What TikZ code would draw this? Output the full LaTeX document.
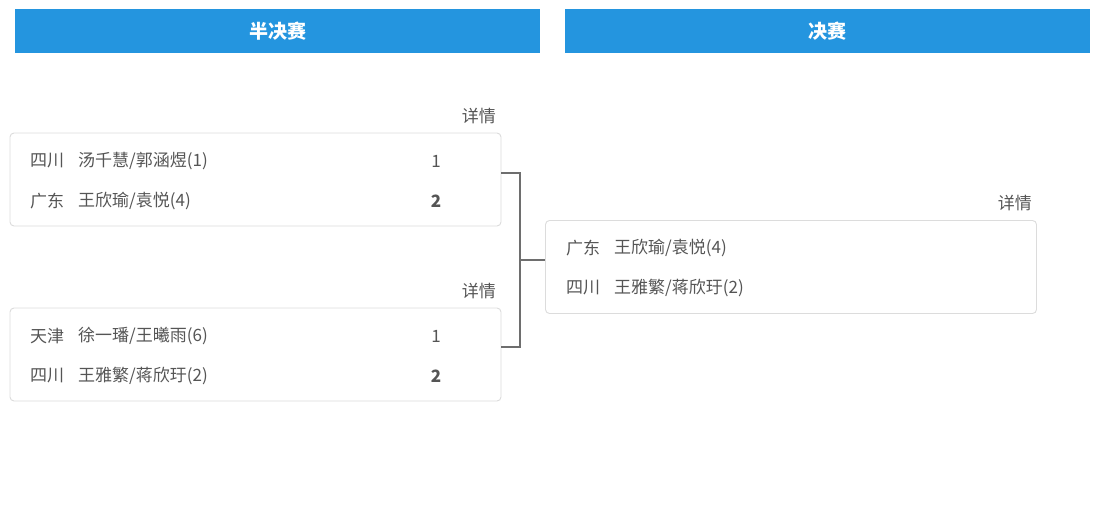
\documentclass[tikz,border=0pt]{standalone}
\usepackage{fontspec}
\setmainfont{Noto Sans CJK SC}
\newfontfamily\cjk{Noto Sans CJK SC}
\definecolor{hdrblue}{HTML}{2495DF}
\definecolor{boxline}{HTML}{DCDCDC}
\definecolor{txt}{HTML}{555555}
\definecolor{brk}{HTML}{6E6E6E}
\begin{document}
\begin{tikzpicture}[x=1pt,y=-1pt,
  hdr/.style={fill=hdrblue,draw=none,minimum width=525pt,minimum height=44pt,inner sep=0pt,
    text=white,font=\cjk\fontsize{19}{19}\selectfont\bfseries},
  matchbox/.style={draw=boxline,line width=0.9pt,rounded corners=4pt,fill=white,
    minimum width=491pt,minimum height=93pt,inner sep=0pt},
  lbl/.style={anchor=west,inner sep=0pt,text=txt,font=\cjk\fontsize{17}{17}\selectfont},
  score/.style={anchor=center,inner sep=0pt,text=txt,font=\cjk\fontsize{17}{17}\selectfont},
  win/.style={score,font=\cjk\fontsize{17}{17}\selectfont\bfseries},
  det/.style={anchor=east,inner sep=0pt,text=txt,font=\cjk\fontsize{17}{17}\selectfont},
  bracket/.style={draw=brk,line width=1.8pt}]
\useasboundingbox (0,0) rectangle (1109,514);
% headers
\node[hdr] (h1) at (277.5,31) {半决赛};
\node[hdr] (h2) at (827,31) {决赛};
% semifinal 1
\node[det] (d1) at (496,116) {详情};
\node[matchbox] (m1) at (255.5,179.5) {};
\node[lbl] (m1a) at (30,161) {四川};
\node[lbl] (m1b) at (78,161) {汤千慧/郭涵煜(1)};
\node[score] (m1s1) at (436,161) {1};
\node[lbl] (m1c) at (30,201) {广东};
\node[lbl] (m1d) at (78,201) {王欣瑜/袁悦(4)};
\node[win] (m1s2) at (436,201) {2};
% semifinal 2
\node[det] (d2) at (496,291) {详情};
\node[matchbox] (m2) at (255.5,354.5) {};
\node[lbl] (m2a) at (30,336) {天津};
\node[lbl] (m2b) at (78,336) {徐一璠/王曦雨(6)};
\node[score] (m2s1) at (436,336) {1};
\node[lbl] (m2c) at (30,376) {四川};
\node[lbl] (m2d) at (78,376) {王雅繁/蒋欣玗(2)};
\node[win] (m2s2) at (436,376) {2};
% final
\node[det] (d3) at (1032,203) {详情};
\node[matchbox] (m3) at (791,267) {};
\node[lbl] (m3a) at (566,248) {广东};
\node[lbl] (m3b) at (614,248) {王欣瑜/袁悦(4)};
\node[lbl] (m3c) at (566,288) {四川};
\node[lbl] (m3d) at (614,288) {王雅繁/蒋欣玗(2)};
% bracket
\coordinate (j1) at (520,173);
\coordinate (j2) at (520,347);
\coordinate (jm) at (520,260);
\draw[bracket] ([yshift=6.5pt]m1.east) -- (j1) -- (j2) -- ([yshift=7.5pt]m2.east);
\draw[bracket] (jm) -- ([yshift=7pt]m3.west);
\end{tikzpicture}
\end{document}
